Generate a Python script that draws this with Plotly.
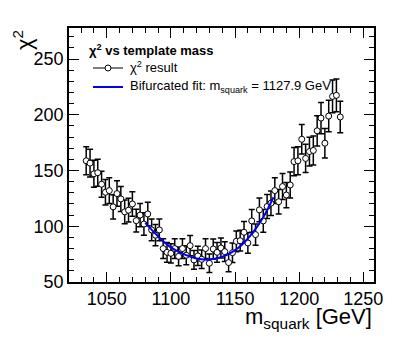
import plotly.graph_objects as go

# template masses [GeV]
mass = [1034, 1037, 1040, 1043, 1046, 1049, 1052, 1055, 1058, 1061,
        1064, 1067, 1070, 1073, 1076, 1079, 1082, 1085, 1088, 1091,
        1094, 1097, 1100, 1103, 1106, 1109, 1112, 1115, 1118, 1121,
        1124, 1127, 1130, 1133, 1136, 1139, 1142, 1145, 1148, 1151,
        1154, 1157, 1160, 1163, 1166, 1169, 1172, 1175, 1178, 1181,
        1184, 1187, 1190, 1193, 1196, 1199, 1202, 1205, 1208, 1211,
        1214, 1217, 1220, 1223, 1226, 1229, 1232]

chi2 = [158.7, 156.6, 147.0, 148.0, 137.7, 130.5, 132.0, 117.4, 129.3, 124.5,
        112.9, 114.4, 120.0, 105.0, 110.0, 102.0, 111.0, 96.7, 92.0, 96.7,
        80.0, 76.6, 75.7, 80.0, 73.0, 80.0, 74.0, 82.6, 69.8, 73.4,
        70.4, 80.0, 66.8, 79.6, 76.6, 80.5, 77.2, 67.4, 76.3, 86.5,
        87.0, 94.6, 85.0, 104.8, 92.5, 114.7, 104.8, 117.7, 120.7, 132.0,
        122.0, 135.6, 128.0, 137.0, 158.0, 158.7, 178.0, 160.8, 167.0, 168.0,
        185.6, 197.0, 174.5, 198.8, 216.5, 217.4, 198.0]

chi2_err = [12.6, 12.5, 12.1, 12.2, 11.7, 11.4, 11.5, 10.8, 11.4, 11.2,
            10.6, 10.7, 11.0, 10.2, 10.5, 10.1, 10.5, 9.8, 9.6, 9.8,
            8.9, 8.8, 8.7, 8.9, 8.5, 8.9, 8.6, 9.1, 8.4, 8.6,
            8.4, 8.9, 8.2, 8.9, 8.8, 9.0, 8.8, 8.2, 8.7, 9.3,
            9.3, 9.7, 9.2, 10.2, 9.6, 10.7, 10.2, 10.8, 11.0, 11.5,
            11.0, 11.6, 11.3, 11.7, 12.6, 12.6, 13.3, 12.7, 12.9, 13.0,
            13.6, 14.0, 13.2, 14.1, 14.7, 14.7, 14.1]

# bifurcated parabola fit
fit_mass = [1080, 1090, 1100, 1110, 1120, 1128, 1135, 1145, 1155, 1165, 1172, 1180]
fit_chi2 = [103, 91, 81, 75, 71, 70, 71, 75, 83, 96, 108, 126]

legend_title = "<b>χ<sup>2</sup> vs template mass</b>"
legend_labels = ["χ<sup>2</sup> result", "Bifurcated fit: m<sub>squark</sub> = 1127.9 GeV"]

FONT = "Liberation Sans, Arial, sans-serif"
W, H = 407, 344
L, R, T, B = 69, 33, 28, 62


def px(x):  # pixel -> paper x
    return (x - L) / (W - L - R)


def py(y):  # pixel -> paper y
    return (H - B - y) / (H - T - B)


fig = go.Figure()
fig.add_trace(go.Scatter(
    x=mass, y=chi2, mode="markers",
    error_y=dict(type="data", array=chi2_err, color="black", thickness=1.5, width=3),
    marker=dict(symbol="circle", size=6, color="white", line=dict(color="black", width=1)),
    showlegend=False))
fig.add_trace(go.Scatter(
    x=fit_mass, y=fit_chi2, mode="lines", line=dict(color="#0000ee", width=2, shape="spline"),
    showlegend=False))

axis_common = dict(
    showgrid=False, zeroline=False, showline=True, linecolor="black", linewidth=1.5,
    mirror="allticks", ticks="inside", ticklen=10, tickwidth=1, tickcolor="black",
    tickfont=dict(family=FONT, size=18, color="black"),
)
fig.update_xaxes(range=[1020.6, 1258.3], dtick=50, tick0=1000,
                 minor=dict(ticks="inside", ticklen=5, dtick=10, tickcolor="black"),
                 **axis_common)
fig.update_yaxes(range=[50, 277.8], dtick=50, tick0=0,
                 minor=dict(ticks="inside", ticklen=5, dtick=10, tickcolor="black"),
                 **axis_common)

# axis titles, ROOT style
fig.add_annotation(text="m<sub>squark</sub> [GeV]", xref="paper", yref="paper",
                   x=1.0, y=py(302), xanchor="right", yanchor="top", showarrow=False,
                   font=dict(family=FONT, size=22, color="black"))
fig.add_annotation(text="χ<sup>2</sup>", xref="paper", yref="paper", textangle=-90,
                   x=px(23), y=1.0, xanchor="center", yanchor="top", showarrow=False,
                   font=dict(family=FONT, size=22, color="black"))

# legend drawn by hand
fig.add_annotation(text=legend_title, xref="paper", yref="paper", x=px(87), y=py(50),
                   xanchor="left", yanchor="middle", showarrow=False,
                   font=dict(family=FONT, size=13, color="black"))
fig.add_shape(type="line", xref="paper", yref="paper", x0=px(93), x1=px(123),
              y0=py(68), y1=py(68), line=dict(color="black", width=1))
fig.add_shape(type="circle", xref="paper", yref="paper", xsizemode="pixel", ysizemode="pixel",
              xanchor=px(108), yanchor=py(68), x0=-3, x1=3, y0=-3, y1=3,
              line=dict(color="black", width=1), fillcolor="white")
fig.add_annotation(text=legend_labels[0], xref="paper", yref="paper", x=px(128), y=py(67),
                   xanchor="left", yanchor="middle", showarrow=False,
                   font=dict(family=FONT, size=13, color="black"))
fig.add_shape(type="line", xref="paper", yref="paper", x0=px(93), x1=px(123),
              y0=py(87), y1=py(87), line=dict(color="#0000ee", width=2))
fig.add_annotation(text=legend_labels[1], xref="paper", yref="paper", x=px(128), y=py(86),
                   xanchor="left", yanchor="middle", showarrow=False,
                   font=dict(family=FONT, size=13, color="black"))

fig.update_layout(
    width=W, height=H,
    margin=dict(l=L, r=R, t=T, b=B),
    paper_bgcolor="white", plot_bgcolor="white",
    font=dict(family=FONT, color="black"),
    showlegend=False,
)

# drop the page's default body margin so the figure sits at the window corner
fig.write_html("out.html", config={"displayModeBar": False},
               post_script="document.body.style.margin='0';")
